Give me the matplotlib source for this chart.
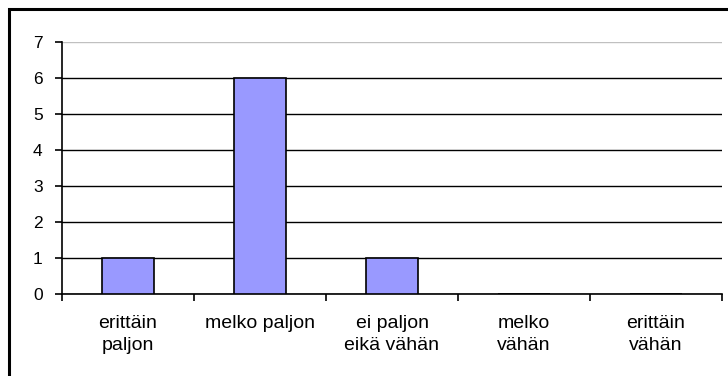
import matplotlib
matplotlib.use("Agg")
import matplotlib.pyplot as plt
from matplotlib.patches import Rectangle

# vastausten jakauma
categories = ["erittäin\npaljon", "melko paljon", "ei paljon\neikä vähän", "melko\nvähän", "erittäin\nvähän"]
counts = [1, 6, 1, 0, 0]
y_ticks = [0, 1, 2, 3, 4, 5, 6, 7]

plt.rcParams['font.family'] = ['Liberation Sans', 'DejaVu Sans']

fig = plt.figure(figsize=(7.28, 3.76), dpi=100)
ax = fig.add_axes([62 / 728, 1 - 294 / 376, 660 / 728, 252 / 376])

x = list(range(len(categories)))
ax.bar(x, counts, width=0.39, color='#9999ff', edgecolor='black', linewidth=1.2, zorder=3)

ax.set_xlim(-0.5, len(categories) - 0.5)
ax.set_ylim(0, 7)
ax.set_yticks(y_ticks)
ax.set_yticklabels([str(v) for v in y_ticks], fontsize=12.5)
ax.set_xticks(x)
ax.set_xticklabels(categories, fontsize=14, linespacing=1.38)
ax.set_xticks([i - 0.5 for i in range(len(categories) + 1)], minor=True)
ax.tick_params(axis='x', which='major', length=0, pad=15)
ax.tick_params(axis='x', which='minor', length=5, width=1.2, direction='out')
ax.tick_params(axis='y', length=5, width=1.2, direction='out', pad=9)

# vaakaviivat, ylin harmaana
ax.grid(axis='y', color='black', linewidth=1.0, zorder=1)
ax.set_axisbelow(True)
ax.yaxis.get_gridlines()[-1].set_color('#c0c0c0')

for side in ['top', 'right']:
    ax.spines[side].set_visible(False)
ax.spines['left'].set_linewidth(1.2)
ax.spines['bottom'].set_linewidth(1.2)

# kehys kuvan ympärillä
fig.patches.append(Rectangle((9 / 728, -0.05), 1.0, 1 - 9 / 376 + 0.05, transform=fig.transFigure,
                             fill=False, edgecolor='black', linewidth=2.2))

fig.savefig("out.png", dpi=100)
